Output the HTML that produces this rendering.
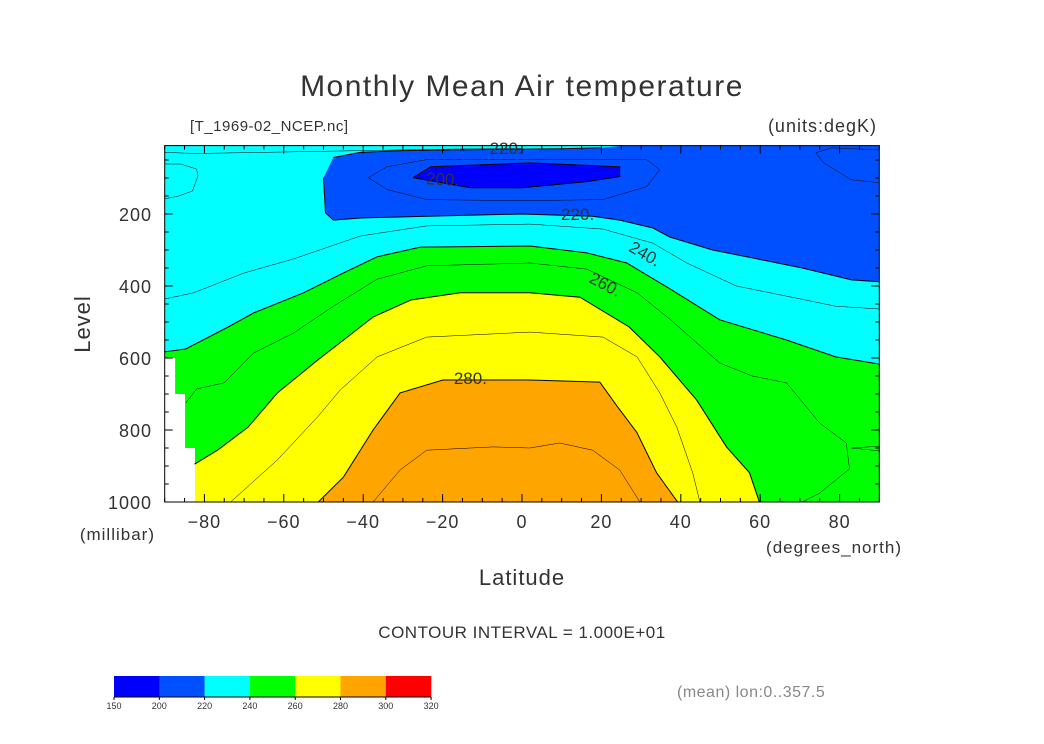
<!DOCTYPE html>
<html><head><meta charset="utf-8"><style>
body{margin:0;background:#fff}
svg text{font-family:"Liberation Sans",sans-serif;fill:#333}
</style></head><body>
<svg id="chart" width="1044" height="739" viewBox="0 0 1044 739" xmlns="http://www.w3.org/2000/svg">
<text x="522" y="96" text-anchor="middle" font-size="30" style="letter-spacing:1.5px">Monthly Mean Air temperature</text>
<text x="190" y="131" font-size="15" style="letter-spacing:0.5px">[T_1969-02_NCEP.nc]</text>
<text x="877" y="132" text-anchor="end" font-size="18" style="letter-spacing:1px">(units:degK)</text>
<g id="plot"></g>
<text x="90" y="324" text-anchor="middle" font-size="22" style="letter-spacing:1px" transform="rotate(-90 90 324)">Level</text>
<text x="155" y="540" text-anchor="end" font-size="17" style="letter-spacing:1px">(millibar)</text>
<text x="902" y="553" text-anchor="end" font-size="17" style="letter-spacing:1px">(degrees_north)</text>
<text x="522" y="585" text-anchor="middle" font-size="22" style="letter-spacing:1px">Latitude</text>
<text x="522" y="638" text-anchor="middle" font-size="17" style="letter-spacing:0.5px">CONTOUR INTERVAL = 1.000E+01</text>
<text x="677" y="697" font-size="16" style="fill:#888;letter-spacing:0.5px">(mean) lon:0..357.5</text>
<g id="cbar"></g>
</svg>
<script>
const xTicks=[-80,-60,-40,-20,0,20,40,60,80];
const yTicks=[200,400,600,800,1000];
const cbarLevels=[150,200,220,240,260,280,300,320];
const cbarColors=['#0000ff','#0050ff','#00ffff','#00ff00','#ffff00','#ffa500','#ff0000'];
const c220=[[-47.5,43],[-40.7,29],[-30,24],[-10,21],[10,19],[20,16],[26,10],[90,10],[90,388],[83,383],[70.6,350],[58,322],[48,300],[37.2,264],[33,239],[24.6,217],[17.8,206],[0,200],[-24,206],[-40.7,211],[-47.5,217],[-49.5,197],[-50,99]];
const c200=[[-27.4,99],[-23,69],[2,58],[24.6,69],[24.6,96],[16.3,110],[0,127],[-13,127]];
const c240=[[-90,583],[-84.7,575],[-74,514],[-67.6,475],[-55,419],[-45,364],[-36.5,319],[-25.6,292],[2,289],[16.3,308],[26.4,336],[37,406],[49.8,494],[66.6,550],[79,597],[90,617]];
const c260=[[-82.5,895],[-76.7,856],[-69,792],[-61.6,697],[-51.5,606],[-44,542],[-37.5,486],[-28,439],[-15.6,419],[2,419],[14.6,431],[27,514],[34.7,597],[44,717],[51.5,847],[57.3,919],[59.8,1000]];
const c280=[[-51.3,1000],[-45,931],[-37.5,800],[-30.7,697],[-19.9,661],[2,661],[19.6,667],[23.9,733],[28.9,806],[33.9,919],[39.2,1000]];
const c210=[[-38.7,99],[-34,69],[-24,49],[31.4,49],[34.7,77],[31.4,124],[20.4,160],[0,163],[-24,160],[-34,132],[-38.7,99]];
const c210b=[[90,22],[78,16],[74,30],[76,58],[83,105],[90,113]];
const c230top=[[-90,29],[-82,32],[-66,29],[-40,24],[-20,20],[0,18]];
const c230left=[[-90,61],[-86,61],[-82,75],[-81.6,94],[-83,136],[-86.5,150],[-90,158]];
const c230=[[-90,436],[-82.7,419],[-70,364],[-57.6,325],[-40.7,261],[-24,233],[2,228],[20.4,242],[33,281],[41.5,336],[54,400],[66.6,428],[79,456],[90,464]];
const c250=[[-84.7,725],[-82,686],[-75,669],[-67.6,586],[-57.6,531],[-47.5,456],[-36.5,381],[-24,344],[2,336],[16.3,353],[29,419],[37.2,492],[49.8,614],[58,650],[66.6,669],[75,781],[81.7,836],[82.5,908],[75,975],[70.6,1000]];
const c250b=[[90,845],[83,850],[90,858]];
const c270=[[-73.4,1000],[-61.6,883],[-51.5,764],[-45.8,689],[-36.5,597],[-24,542],[2,528],[20.4,542],[29,597],[34.7,697],[39,792],[43,919],[44.8,1000]];
const c290=[[-37.5,1000],[-30.7,911],[-24,856],[-7.3,847],[2,850],[9.5,836],[17.8,856],[24.6,911],[29.7,1000]];
const missingEdges=[-90,-87.5,-85,-82.5];
const missingTops=[600,700,850];
const labels=[["220.",-4,16,0],["200.",-20,103,3],["220.",14,200,0],["240.",31,310,30],["260.",21,395,28],["280.",-13,655,0]];

const NS='http://www.w3.org/2000/svg';
const X=lat=>522+lat*3.97;
const Y=p=>502-(1000-p)*0.36;
const plot=document.getElementById('plot');
function mk(tag,attrs,parent){const e=document.createElementNS(NS,tag);for(const k in attrs)e.setAttribute(k,attrs[k]);(parent||plot).appendChild(e);return e;}
const pts=a=>a.map(d=>X(d[0]).toFixed(1)+','+Y(d[1]).toFixed(1)).join(' ');

let r=mk('rect',{x:X(-90),y:Y(10),width:X(90)-X(-90),height:Y(1000)-Y(10),fill:cbarColors[2]});


function poly(arr,fill,name){const e=mk('polygon',{points:pts(arr),fill:fill,stroke:'none'});

}
poly(c220,cbarColors[1],'fill-200-220');
poly(c200,cbarColors[0],'fill-below-200');
poly(c240.concat([[90,1000],[-90,1000]]),cbarColors[3],'fill-240-260');
poly([[-82.5,1000]].concat(c260),cbarColors[4],'fill-260-280');
poly(c280,cbarColors[5],'fill-280-300');
for(let i=0;i<missingTops.length;i++){
 const m=mk('rect',{x:X(missingEdges[i]),y:Y(missingTops[i]),width:X(missingEdges[i+1])-X(missingEdges[i])+0.5,height:Y(1000)-Y(missingTops[i]),fill:'#fff'});
 
 
}
function line(arr,w,name){const e=mk('polyline',{points:pts(arr),fill:'none',stroke:'#000','stroke-width':w});

}
line(c220.slice(0,6),1,'contour-220');line(c220.slice(8),1,'contour-220');
line(c200.concat([c200[0]]),1,'contour-200');
line(c240,1,'contour-240');line(c260,1,'contour-260');line(c280,1,'contour-280');
[c210,c210b,c230top,c230left,c230,c250,c250b,c270,c290].forEach(c=>line(c,0.5,'contour-minor'));
labels.forEach(l=>{const t=mk('text',{x:X(l[1]),y:Y(l[2])+6,'font-size':17,'text-anchor':'middle',transform:`rotate(${l[3]} ${X(l[1])} ${Y(l[2])})`});t.textContent=l[0];

});
let f=mk('rect',{x:X(-90),y:Y(10),width:X(90)-X(-90),height:Y(1000)-Y(10),fill:'none',stroke:'#000','stroke-width':1});


for(let lat=-90;lat<=90;lat+=5){const L=lat%20===0?8:4;
 mk('line',{x1:X(lat),x2:X(lat),y1:Y(1000),y2:Y(1000)-L,stroke:'#000','stroke-width':1});
 mk('line',{x1:X(lat),x2:X(lat),y1:Y(10),y2:Y(10)+L,stroke:'#000','stroke-width':1});}
xTicks.forEach(v=>{const t=mk('text',{x:X(v),y:528,'text-anchor':'middle','font-size':18,style:'letter-spacing:1px'});t.textContent=(v<0?'\u2212':'')+Math.abs(v);

});
for(let p=50;p<=1000;p+=50){if(Y(p)<Y(10))continue;const L=p%200===0?8:4;
 mk('line',{x1:X(-90),x2:X(-90)+L,y1:Y(p),y2:Y(p),stroke:'#000','stroke-width':1});
 mk('line',{x1:X(90),x2:X(90)-L,y1:Y(p),y2:Y(p),stroke:'#000','stroke-width':1});}
yTicks.forEach(v=>{const t=mk('text',{x:152,y:Y(v)+7,'text-anchor':'end','font-size':18,style:'letter-spacing:1px'});t.textContent=v;

});
const cb=document.getElementById('cbar');
for(let i=0;i<cbarColors.length;i++){
 const s=mk('rect',{x:114+i*45.3,y:676,width:45.5,height:21,fill:cbarColors[i]},cb);
 
 }
cbarLevels.forEach((v,i)=>{const x=114+i*45.3;mk('line',{x1:x,x2:x,y1:697,y2:700,stroke:'#000'},cb);
 const t=mk('text',{x:x,y:709,'text-anchor':'middle','font-size':9},cb);t.textContent=v;
 
 });
mk('line',{x1:114,x2:431,y1:697,y2:697,stroke:'#000'},cb);
</script>
</body></html>
